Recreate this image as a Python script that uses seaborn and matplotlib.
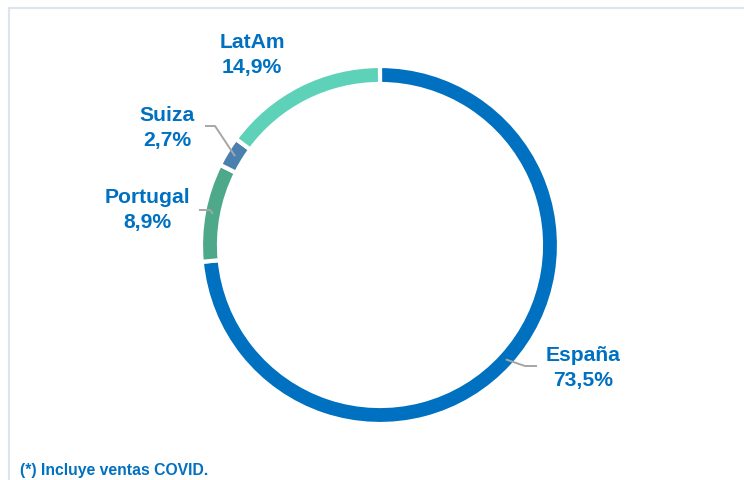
import numpy as np
import matplotlib
matplotlib.use("Agg")
import matplotlib.pyplot as plt
import seaborn as sns
from matplotlib.patches import Rectangle

# --- Data ---
regions = ["España", "Portugal", "Suiza", "LatAm"]
shares = [73.5, 8.9, 2.7, 14.9]
share_labels = ["73,5%", "8,9%", "2,7%", "14,9%"]
footnote = "(*) Incluye ventas COVID."

# --- Style ---
colors = ["#0070C0", "#4EA98A", "#4A80B0", "#5ED1B9"]
text_blue = "#0070C0"
leader_grey = "#A6A6A6"

# label layout in image pixels (x, y from top): text centre, leader elbow(s)
label_pos = {
    "España": (583, 368),
    "Portugal": (147, 210),
    "Suiza": (167, 128),
    "LatAm": (252, 55),
}
leader_pts = {
    "España": [(525, 366), (537, 366)],
    "Portugal": [(210, 210), (199, 210)],
    "Suiza": [(215, 126), (205, 126)],
}

W, H = 744, 480
CX, CY = 380, 245      # ring centre (image px)
R, RING = 179, 18      # outer radius / ring width incl. white edge

sns.set_theme(style="white")
plt.rcParams["font.family"] = ["Liberation Sans", "DejaVu Sans"]


def flip(y):
    return H - y


fig = plt.figure(figsize=(W / 100, H / 100), dpi=100)
ax = fig.add_axes([0, 0, 1, 1])

ax.pie(shares, colors=colors, startangle=90, counterclock=False,
       center=(CX, flip(CY)), radius=R,
       wedgeprops=dict(width=RING, edgecolor="white", linewidth=3))

ax.set_xlim(0, W)
ax.set_ylim(0, H)
ax.set_aspect("equal")
ax.axis("off")

# leader lines start at the middle of each segment
cum = np.cumsum([0] + shares)
r_mid = R - RING / 2
for i, name in enumerate(regions):
    if name in leader_pts:
        mid = 90 - (cum[i] + shares[i] / 2) * 3.6
        px = CX + r_mid * np.cos(np.radians(mid))
        py = flip(CY) + r_mid * np.sin(np.radians(mid))
        xs = [px] + [p[0] for p in leader_pts[name]]
        ys = [py] + [flip(p[1]) for p in leader_pts[name]]
        ax.plot(xs, ys, color=leader_grey, lw=1.4, solid_capstyle="butt")
    lx, ly = label_pos[name]
    ax.text(lx, flip(ly), f"{name}\n{share_labels[i]}", ha="center",
            va="center", multialignment="center", fontsize=15.2,
            fontweight="bold", color=text_blue, linespacing=1.38)

ax.text(20, flip(470), footnote, ha="left", va="center", fontsize=11.3,
        fontweight="bold", color=text_blue)

# light frame around the panel (runs off right and bottom edges)
fig.patches.append(Rectangle((9 / W, -0.1), 1.2, 1 - 8 / H + 0.1,
                             transform=fig.transFigure, fill=False,
                             edgecolor="#DCE4EF", linewidth=1.5))

fig.savefig("out.png", dpi=100)
